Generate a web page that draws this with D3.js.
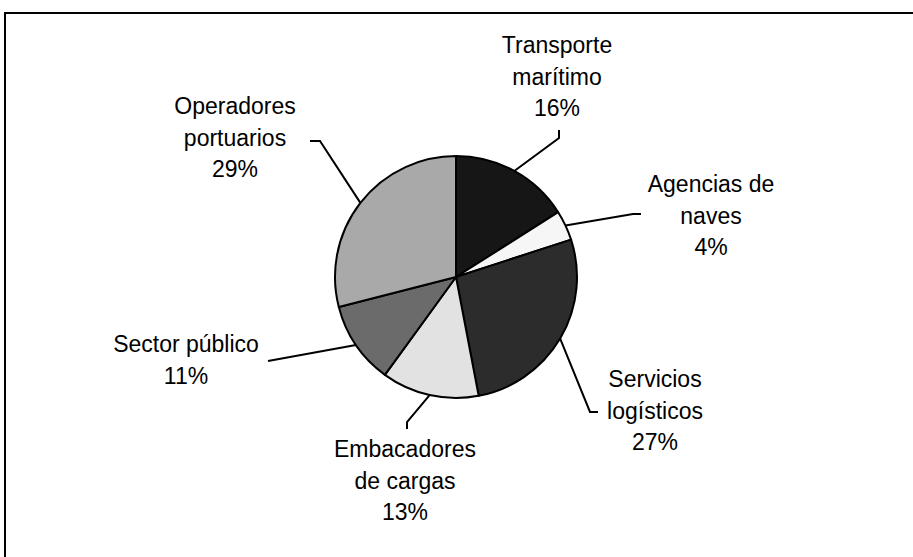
<!DOCTYPE html>
<html>
<head>
<meta charset="utf-8">
<script src="https://cdn.jsdelivr.net/npm/d3@7"></script>
<style>
  body { margin: 0; background: #fff; }
  svg { display: block; }
  .lbl { font-family: "Liberation Sans", Arial, sans-serif; font-size: 23px; fill: #000; }
</style>
</head>
<body>
<svg width="913" height="557"></svg>
<script>
// chart data
var categories = ["Transporte marítimo", "Agencias de naves", "Servicios logísticos",
                  "Embacadores de cargas", "Sector público", "Operadores portuarios"];
var values = [16, 4, 27, 13, 11, 29];
var labelLines = [
  ["Transporte", "marítimo", "16%"],
  ["Agencias de", "naves", "4%"],
  ["Servicios", "logísticos", "27%"],
  ["Embacadores", "de cargas", "13%"],
  ["Sector público", "11%"],
  ["Operadores", "portuarios", "29%"]
];

// layout (not data)
var fills = ["#161616", "#f6f6f6", "#2c2c2c", "#e2e2e2", "#6b6b6b", "#a9a9a9"];
var cx = 456, cy = 277, r = 121;
// label block: center x, first baseline y, leader elbow (relative to pie center) and tick end
var labelLayout = [
  {x: 557, y: 53,  elbow: [103, -139], tick: [103, -147]},
  {x: 711, y: 192, elbow: [177, -63],  tick: [185, -63]},
  {x: 655, y: 387, elbow: [134, 135],  tick: [142, 135]},
  {x: 405, y: 457, elbow: [-49, 145],  tick: [-49, 152]},
  {x: 186, y: 352, elbow: [-188, 84],  tick: [-188, 84]},
  {x: 235, y: 114, elbow: [-136, -136], tick: [-146, -136]}
];
var lineH = 31.5;

var svg = d3.select("svg");

// outer frame (runs off the right and bottom edges)
svg.append("rect")
  .attr("x", 5).attr("y", 13)
  .attr("width", 960).attr("height", 600)
  .attr("fill", "none")
  .attr("stroke", "#000")
  .attr("stroke-width", 2);

var pie = d3.pie().sort(null).value(function(d) { return d; });
var arcs = pie(values);

var arc = d3.arc().innerRadius(0).outerRadius(r);
var edge = d3.arc().innerRadius(r).outerRadius(r);

var g = svg.append("g").attr("transform", "translate(" + cx + "," + cy + ")");

g.selectAll("path.slice")
  .data(arcs)
  .enter().append("path")
  .attr("class", "slice")
  .attr("d", arc)
  .attr("fill", function(d, i) { return fills[i]; })
  .attr("stroke", "#000")
  .attr("stroke-width", 2)
  .attr("stroke-linejoin", "round");

// leader lines
g.selectAll("polyline.leader")
  .data(arcs)
  .enter().append("polyline")
  .attr("class", "leader")
  .attr("fill", "none")
  .attr("stroke", "#000")
  .attr("stroke-width", 2)
  .attr("points", function(d, i) {
    var p = edge.centroid(d), L = labelLayout[i];
    return [p, L.elbow, L.tick].map(function(q) { return q.join(","); }).join(" ");
  });

// labels
var lab = svg.selectAll("text.lbl")
  .data(labelLines)
  .enter().append("text")
  .attr("class", "lbl")
  .attr("text-anchor", "middle");

lab.selectAll("tspan")
  .data(function(d, i) { return d.map(function(t) { return {t: t, i: i}; }); })
  .enter().append("tspan")
  .attr("x", function(d) { return labelLayout[d.i].x; })
  .attr("y", function(d, j) { return labelLayout[d.i].y + j * lineH; })
  .text(function(d) { return d.t; });
</script>
</body>
</html>
